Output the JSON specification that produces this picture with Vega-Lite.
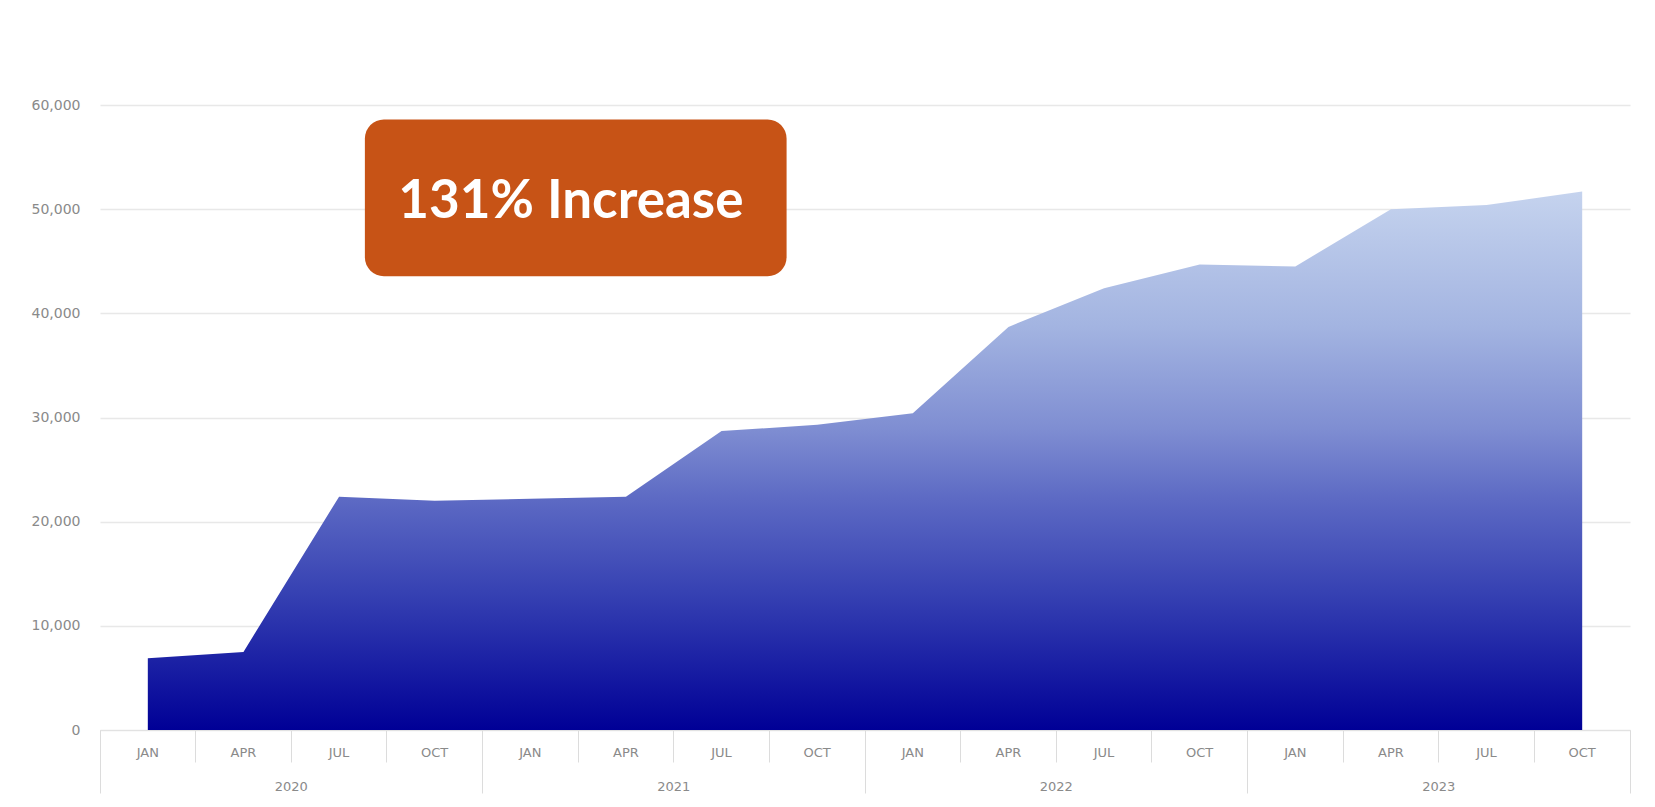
{
  "$schema": "https://vega.github.io/schema/vega-lite/v6.json",
  "width": 1530,
  "height": 625,
  "autosize": {"type": "none"},
  "padding": {"left": 100, "top": 105, "right": 25, "bottom": 77},
  "background": "#ffffff",
  "config": {
    "view": {"stroke": null},
    "axis": {
      "labelFont": "DejaVu Sans",
      "labelFontSize": 13,
      "labelColor": "#8a8a8a",
      "tickColor": "#dcdcdc",
      "domainColor": "#e2e2e2",
      "gridColor": "#e8e8e8"
    }
  },
  "resolve": {"scale": {"x": "independent"}, "axis": {"x": "independent"}},
  "layer": [
    {
      "data": {
        "values": [
          {"period": "2020 JAN", "value": 6900},
          {"period": "2020 APR", "value": 7500},
          {"period": "2020 JUL", "value": 22400},
          {"period": "2020 OCT", "value": 22000},
          {"period": "2021 JAN", "value": 22200},
          {"period": "2021 APR", "value": 22400},
          {"period": "2021 JUL", "value": 28700},
          {"period": "2021 OCT", "value": 29300},
          {"period": "2022 JAN", "value": 30400},
          {"period": "2022 APR", "value": 38700},
          {"period": "2022 JUL", "value": 42400},
          {"period": "2022 OCT", "value": 44700},
          {"period": "2023 JAN", "value": 44500},
          {"period": "2023 APR", "value": 50000},
          {"period": "2023 JUL", "value": 50400},
          {"period": "2023 OCT", "value": 51700}
        ]
      },
      "mark": {
        "type": "area",
        "fill": {
          "gradient": "linear",
          "x1": 0, "y1": 0, "x2": 0, "y2": 1,
          "stops": [
            {"offset": 0, "color": "#c5d3ee"},
            {"offset": 0.25, "color": "#a3b4e1"},
            {"offset": 0.44, "color": "#7f8ed2"},
            {"offset": 0.57, "color": "#5d6ac4"},
            {"offset": 0.75, "color": "#3540b2"},
            {"offset": 1, "color": "#000096"}
          ]
        }
      },
      "encoding": {
        "x": {
          "field": "period",
          "type": "ordinal",
          "sort": null,
          "bandPosition": 0.5,
          "scale": {"type": "band", "paddingInner": 0, "paddingOuter": 0},
          "axis": {
            "title": null,
            "orient": "bottom",
            "labelExpr": "slice(datum.label, 5)",
            "labelAngle": 0,
            "bandPosition": 1,
            "tickExtra": true,
            "tickSize": 32,
            "labelBaseline": "middle",
            "labelPadding": -10,
            "domain": true,
            "grid": false
          }
        },
        "y": {
          "field": "value",
          "type": "quantitative",
          "scale": {"domain": [0, 60000], "nice": false},
          "axis": {
            "title": null,
            "values": [0, 10000, 20000, 30000, 40000, 50000, 60000],
            "labelExpr": "format(datum.value, ',')",
            "labelFontSize": 14,
            "ticks": false,
            "domain": false,
            "labelPadding": 20,
            "gridWidth": 1.5
          }
        }
      }
    },
    {
      "data": {
        "values": [
          {"year": "2020"},
          {"year": "2021"},
          {"year": "2022"},
          {"year": "2023"}
        ]
      },
      "mark": {"type": "point", "opacity": 0},
      "encoding": {
        "x": {
          "field": "year",
          "type": "ordinal",
          "scale": {"type": "band", "paddingInner": 0, "paddingOuter": 0},
          "axis": {
            "title": null,
            "orient": "bottom",
            "labelAngle": 0,
            "bandPosition": 1,
            "tickExtra": true,
            "tickSize": 63,
            "labelBaseline": "middle",
            "labelPadding": -7,
            "domain": false,
            "grid": false
          }
        }
      }
    },
    {
      "data": {"values": [{"label": "131% Increase"}]},
      "layer": [
        {
          "mark": {"type": "rect", "color": "#c75316", "cornerRadius": 19},
          "encoding": {
            "x": {"datum": 2.27, "type": "quantitative", "scale": {"domain": [-0.5, 15.5], "nice": false, "zero": false}, "axis": null},
            "x2": {"datum": 6.68},
            "y": {"datum": 58600, "type": "quantitative"},
            "y2": {"datum": 43550}
          }
        },
        {
          "mark": {"type": "text", "font": "Lato", "fontWeight": "bold", "fontSize": 53, "color": "#ffffff", "align": "left", "baseline": "middle"},
          "encoding": {
            "text": {"field": "label"},
            "x": {"datum": 2.62, "type": "quantitative", "scale": {"domain": [-0.5, 15.5], "nice": false, "zero": false}, "axis": null},
            "y": {"datum": 50700, "type": "quantitative"}
          }
        }
      ]
    }
  ]
}
